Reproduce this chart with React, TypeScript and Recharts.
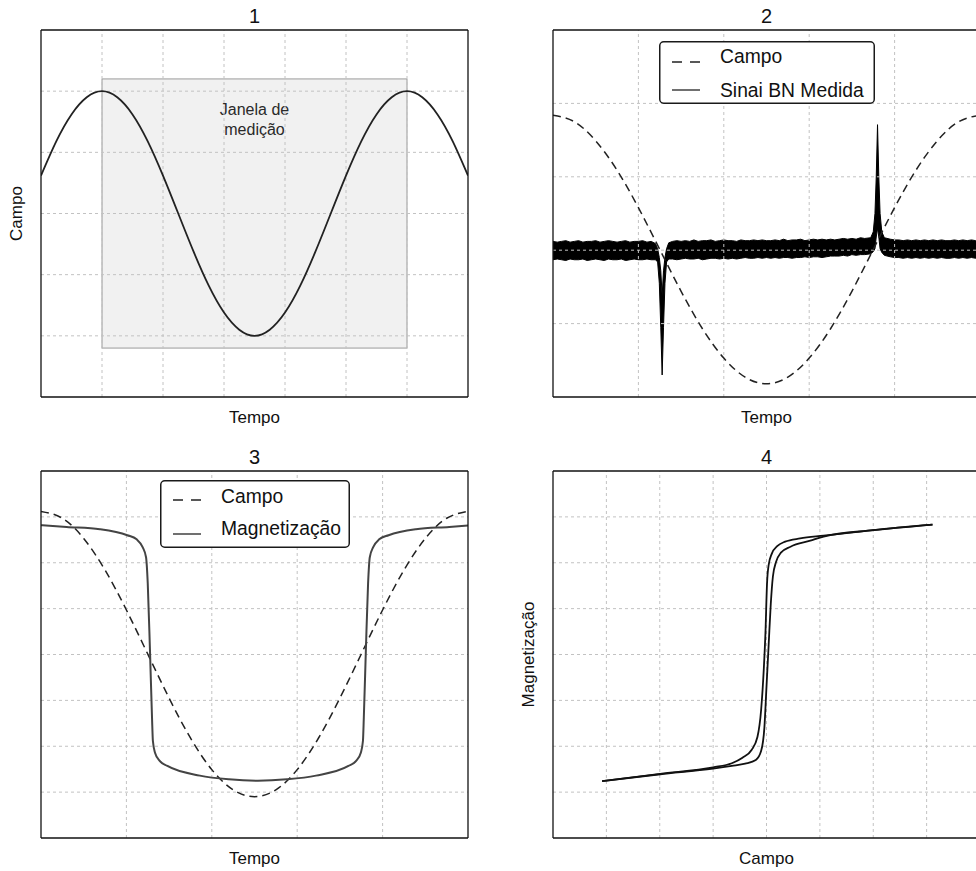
import React from 'react';
import {
  ComposedChart,
  Line,
  Area,
  XAxis,
  YAxis,
  ReferenceArea,
  ReferenceLine,
  Legend,
} from 'recharts';

const FONT = '"Liberation Sans", Arial, Helvetica, sans-serif';
const TEXT = '#111';
const GRID = '#c2c2c2';

// ---------- texts ----------
const panelTitles = ['1', '2', '3', '4'];
const xLabels = ['Tempo', 'Tempo', 'Tempo', 'Campo'];
const yLabels = ['Campo', '', '', 'Magnetização'];
const windowLabel = ['Janela de', 'medição'];
const legend2Names = ['Campo', 'Sinai BN Medida'];
const legend3Names = ['Campo', 'Magnetização'];

// ---------- ticks / domains ----------
const ticks1X = [1, 2, 3, 4, 5, 6];
const ticks1Y = [1, 2, 3, 4, 5];
const ticks2X = [1, 2, 3, 4];
const ticks2Y = [1, 2, 3, 4];
const ticks3X = [1, 2, 3, 4];
const ticks3Y = [1, 2, 3, 4, 5, 6, 7];
const ticks4X = [1, 2, 3, 4, 5, 6, 7];
const ticks4Y = [1, 2, 3, 4, 5, 6, 7];

// ---------- panel 1 ----------
const p1Time = [0, 0.25, 0.5, 0.75, 1, 1.25, 1.5, 1.75, 2, 2.25, 2.5, 2.75, 3, 3.25, 3.5, 3.75, 4, 4.25, 4.5, 4.75, 5, 5.25, 5.5, 5.75, 6, 6.25, 6.5, 6.75, 7];
const p1Campo = [3.62, 4.18, 4.62, 4.9, 5.0, 4.9, 4.62, 4.18, 3.62, 3.0, 2.38, 1.82, 1.38, 1.1, 1.0, 1.1, 1.38, 1.82, 2.38, 3.0, 3.62, 4.18, 4.62, 4.9, 5.0, 4.9, 4.62, 4.18, 3.62];
const windowRange = [1, 6, 0.8, 5.2];

// ---------- panel 2 ----------
const p2Time = [0, 0.25, 0.5, 0.75, 1, 1.25, 1.5, 1.75, 2, 2.25, 2.5, 2.75, 3, 3.25, 3.5, 3.75, 4, 4.25, 4.5, 4.75, 5];
const p2Campo = [3.84, 3.75, 3.49, 3.09, 2.58, 2.01, 1.44, 0.93, 0.53, 0.27, 0.18, 0.27, 0.53, 0.93, 1.44, 2.01, 2.58, 3.09, 3.49, 3.75, 3.84];

const bnTime = [
  0.0, 0.05, 0.1, 0.15, 0.2, 0.25, 0.3, 0.35, 0.4, 0.45,
  0.5, 0.55, 0.6, 0.65, 0.7, 0.75, 0.8, 0.85, 0.9, 0.95,
  1.0, 1.05, 1.1, 1.15,
  1.2, 1.225, 1.245, 1.262, 1.278, 1.294, 1.311, 1.33, 1.355,
  1.4, 1.45, 1.5, 1.55, 1.6, 1.65, 1.7, 1.75, 1.8, 1.85,
  1.9, 1.95, 2.0, 2.05, 2.1, 2.15, 2.2, 2.25, 2.3, 2.35,
  2.4, 2.45, 2.5, 2.55, 2.6, 2.65, 2.7, 2.75, 2.8, 2.85,
  2.9, 2.95, 3.0, 3.05, 3.1, 3.15, 3.2, 3.25, 3.3, 3.35,
  3.4, 3.45, 3.5, 3.55, 3.6, 3.65,
  3.72, 3.75, 3.77, 3.785, 3.8, 3.815, 3.83, 3.85, 3.88,
  3.95, 4.0, 4.05, 4.1, 4.15, 4.2, 4.25, 4.3, 4.35, 4.4,
  4.45, 4.5, 4.55, 4.6, 4.65, 4.7, 4.75, 4.8, 4.85, 4.9,
  4.95, 5.0,
];
const bnLow = [
  1.87, 1.88, 1.87, 1.86, 1.88, 1.87, 1.87, 1.88, 1.86, 1.87,
  1.88, 1.87, 1.86, 1.88, 1.87, 1.87, 1.88, 1.86, 1.87, 1.88,
  1.87, 1.87, 1.88, 1.87,
  1.87, 1.84, 1.55, 0.95, 0.3, 0.95, 1.55, 1.84, 1.88,
  1.88, 1.87, 1.88, 1.89, 1.88, 1.88, 1.89, 1.87, 1.88, 1.89,
  1.89, 1.88, 1.89, 1.88, 1.89, 1.88, 1.89, 1.9, 1.89, 1.89,
  1.9, 1.89, 1.9, 1.89, 1.9, 1.89, 1.9, 1.9, 1.89, 1.9,
  1.9, 1.91, 1.9, 1.91, 1.91, 1.9, 1.91, 1.92, 1.92, 1.92,
  1.93, 1.92, 1.94, 1.93, 1.94, 1.94,
  1.95, 1.98, 2.02, 2.18, 2.3, 2.18, 2.02, 1.97, 1.93,
  1.91, 1.9, 1.9, 1.89, 1.9, 1.89, 1.9, 1.89, 1.9, 1.89,
  1.9, 1.89, 1.9, 1.89, 1.89, 1.9, 1.89, 1.9, 1.89, 1.9,
  1.89, 1.9,
];
const bnHigh = [
  2.12, 2.11, 2.12, 2.13, 2.11, 2.12, 2.13, 2.11, 2.12, 2.12,
  2.13, 2.11, 2.12, 2.13, 2.12, 2.11, 2.12, 2.13, 2.11, 2.12,
  2.12, 2.13, 2.11, 2.12,
  2.09, 2.02, 1.9, 1.72, 1.38, 1.72, 1.9, 2.02, 2.1,
  2.12, 2.13, 2.12, 2.13, 2.12, 2.14, 2.12, 2.13, 2.13, 2.14,
  2.12, 2.13, 2.14, 2.13, 2.13, 2.12, 2.14, 2.13, 2.13, 2.14,
  2.13, 2.14, 2.13, 2.13, 2.14, 2.13, 2.15, 2.13, 2.14, 2.14,
  2.15, 2.13, 2.14, 2.15, 2.14, 2.15, 2.14, 2.15, 2.14, 2.15,
  2.16, 2.15, 2.16, 2.15, 2.17, 2.16,
  2.17, 2.25, 2.5, 3.0, 3.71, 3.0, 2.5, 2.25, 2.17,
  2.15, 2.14, 2.14, 2.13, 2.14, 2.13, 2.14, 2.13, 2.14, 2.13,
  2.14, 2.13, 2.14, 2.13, 2.13, 2.14, 2.13, 2.14, 2.13, 2.14,
  2.13, 2.14,
];

// ---------- panel 3 ----------
const p3Time = [0, 0.25, 0.5, 0.75, 1, 1.25, 1.5, 1.75, 2, 2.25, 2.5, 2.75, 3, 3.25, 3.5, 3.75, 4, 4.25, 4.5, 4.75, 5];
const p3Campo = [7.12, 6.97, 6.53, 5.84, 4.97, 4.01, 3.05, 2.18, 1.49, 1.05, 0.9, 1.05, 1.49, 2.18, 3.05, 4.01, 4.97, 5.84, 6.53, 6.97, 7.12];
const p3MagTime = [0, 0.3, 0.69, 1.01, 1.12, 1.19, 1.23, 1.25, 1.276, 1.3, 1.31, 1.335, 1.39, 1.48, 1.86, 2.2, 2.54, 2.88, 3.22, 3.6, 3.69, 3.745, 3.77, 3.78, 3.804, 3.83, 3.85, 3.89, 3.96, 4.07, 4.39, 4.78, 5.0];
const p3Mag = [6.82, 6.78, 6.73, 6.6, 6.51, 6.34, 6.12, 5.55, 4.09, 2.62, 2.12, 1.86, 1.68, 1.57, 1.36, 1.28, 1.25, 1.28, 1.36, 1.57, 1.68, 1.86, 2.12, 2.62, 4.09, 5.55, 6.12, 6.34, 6.51, 6.6, 6.73, 6.78, 6.81];

// ---------- panel 4 ----------
const loopDownH = [0.92, 2.01, 3.0, 3.35, 3.55, 3.72, 3.83, 3.9, 3.95, 3.98, 4.01, 4.04, 4.1, 4.2, 4.35, 4.63, 5.07, 6.0, 7.11];
const loopDownM = [1.24, 1.4, 1.54, 1.63, 1.75, 1.92, 2.2, 2.8, 3.7, 4.46, 5.55, 5.95, 6.2, 6.36, 6.46, 6.53, 6.59, 6.71, 6.83];
const loopUpH = [0.92, 2.01, 3.0, 3.35, 3.6, 3.8, 3.9, 3.96, 4.0, 4.04, 4.08, 4.12, 4.18, 4.27, 4.45, 4.82, 5.07, 6.0, 7.11];
const loopUpM = [1.24, 1.39, 1.51, 1.57, 1.62, 1.7, 1.9, 2.4, 3.3, 4.2, 5.1, 5.7, 6.02, 6.22, 6.35, 6.48, 6.57, 6.71, 6.83];

// ---------- helpers ----------
const rows = (xs: number[], ys: number[]) => xs.map((x, i) => ({ x, y: ys[i] }));
const p1Rows = rows(p1Time, p1Campo);
const p2Rows = rows(p2Time, p2Campo);
const bnRows = bnTime.map((x, i) => ({ x, band: [bnLow[i], bnHigh[i]] }));
const p3CampoRows = rows(p3Time, p3Campo);
const p3MagRows = rows(p3MagTime, p3Mag);
const loopDownRows = rows(loopDownH, loopDownM);
const loopUpRows = rows(loopUpH, loopUpM);

// plot area: x 41..468, y 30..397 inside a 480x430 chart (axes take 1px)
const MARGIN = { top: 29, right: 11, bottom: 32, left: 40 };
const CW = 480;
const CH = 430;

const titleLabel = (text: string) => (props: any) => {
  const vb = props.viewBox || {};
  return (
    <text x={vb.x + vb.width / 2} y={vb.y + (vb.height || 0) - 7.5} textAnchor="middle" fontSize={20} fontFamily={FONT} fill={TEXT}>
      {text}
    </text>
  );
};
const bottomLabel = (text: string) => (props: any) => {
  const vb = props.viewBox || {};
  return (
    <text x={vb.x + vb.width / 2} y={vb.y + 26} textAnchor="middle" fontSize={17} fontFamily={FONT} fill={TEXT}>
      {text}
    </text>
  );
};
const leftLabel = (text: string) => (props: any) => {
  const vb = props.viewBox || {};
  const x = vb.x + (vb.width || 0) - 19;
  const y = vb.y + vb.height / 2;
  return (
    <text x={x} y={y} transform={`rotate(-90, ${x}, ${y})`} textAnchor="middle" fontSize={17} fontFamily={FONT} fill={TEXT}>
      {text}
    </text>
  );
};
const janelaLabel = (props: any) => {
  const vb = props.viewBox || {};
  const cx = vb.x + vb.width / 2;
  return (
    <g>
      <text x={cx} y={vb.y + 36} textAnchor="middle" fontSize={16} fontFamily={FONT} fill="#2a2a2a">{windowLabel[0]}</text>
      <text x={cx} y={vb.y + 56} textAnchor="middle" fontSize={16} fontFamily={FONT} fill="#2a2a2a">{windowLabel[1]}</text>
    </g>
  );
};

const frameAxes = (xMax: number, yMax: number, xTicks: number[], yTicks: number[], title: string, xLabel: string, yLabel: string) => {
  const common = {
    type: 'number' as const,
    tick: false,
    tickSize: -6,
    allowDataOverflow: true,
    interval: 0 as const,
    tickLine: { stroke: '#333', strokeWidth: 1 },
    axisLine: { stroke: '#111', strokeWidth: 1.3 },
  };
  return [
    <XAxis key="xb" {...common} dataKey="x" domain={[0, xMax]} ticks={xTicks} height={1} label={bottomLabel(xLabel)} />,
    <XAxis key="xt" {...common} xAxisId="t" orientation="top" domain={[0, xMax]} ticks={xTicks} height={1} label={titleLabel(title)} />,
    <YAxis key="yl" {...common} domain={[0, yMax]} ticks={yTicks} width={1} label={yLabel ? leftLabel(yLabel) : undefined} />,
    <YAxis key="yr" {...common} yAxisId="r" orientation="right" domain={[0, yMax]} ticks={yTicks} width={1} />,
  ];
};

const gridLines = (xTicks: number[], yTicks: number[]) => [
  ...xTicks.map((t) => <ReferenceLine key={`gx${t}`} x={t} stroke={GRID} strokeWidth={1} strokeDasharray="3 3" />),
  ...yTicks.map((t) => <ReferenceLine key={`gy${t}`} y={t} stroke={GRID} strokeWidth={1} strokeDasharray="3 3" />),
];

const legendBox = (names: string[], w: number, h: number, lines: number[], bases: number[]) => () => (
  <svg width={w} height={h} style={{ display: 'block', overflow: 'visible' }}>
    <rect x={0.75} y={0.75} width={w - 1.5} height={h - 1.5} rx={4} ry={4} fill="#fff" stroke="#1a1a1a" strokeWidth={1.5} />
    <line x1={13} x2={41} y1={lines[0]} y2={lines[0]} stroke="#222" strokeWidth={1.3} strokeDasharray="10 8" />
    <line x1={13} x2={41} y1={lines[1]} y2={lines[1]} stroke="#222" strokeWidth={1.3} />
    <text x={61} y={bases[0]} fontSize={19.3} fontFamily={FONT} fill={TEXT}>{names[0]}</text>
    <text x={61} y={bases[1]} fontSize={19.3} fontFamily={FONT} fill={TEXT}>{names[1]}</text>
  </svg>
);

export default function App() {
  return (
    <div style={{ position: 'absolute', left: 0, top: 0, width: 976, height: 871, overflow: 'hidden', background: '#fff' }}>
      {/* Panel 1 */}
      <div style={{ position: 'absolute', left: 0, top: 0 }}>
        <ComposedChart width={CW} height={CH} margin={MARGIN}>
          {frameAxes(7, 6, ticks1X, ticks1Y, panelTitles[0], xLabels[0], yLabels[0])}
          {gridLines(ticks1X, ticks1Y)}
          <ReferenceArea
            x1={windowRange[0]}
            x2={windowRange[1]}
            y1={windowRange[2]}
            y2={windowRange[3]}
            fill="#000"
            fillOpacity={0.055}
            stroke="#9a9a9a"
            strokeWidth={1}
            label={janelaLabel}
          />
          <Line data={p1Rows} dataKey="y" type="natural" stroke="#222" strokeWidth={1.8} dot={false} activeDot={false} isAnimationActive={false} />
        </ComposedChart>
      </div>

      {/* Panel 2 */}
      <div style={{ position: 'absolute', left: 512, top: 0 }}>
        <ComposedChart width={CW} height={CH} margin={MARGIN}>
          {frameAxes(5, 5, ticks2X, ticks2Y, panelTitles[1], xLabels[1], yLabels[1])}
          <Area data={bnRows} dataKey="band" type="linear" fill="#000" fillOpacity={1} stroke="#000" strokeWidth={1} dot={false} activeDot={false} isAnimationActive={false} />
          {gridLines(ticks2X, ticks2Y)}
          <Line data={p2Rows} dataKey="y" type="natural" stroke="#222" strokeWidth={1.5} strokeDasharray="8 5" dot={false} activeDot={false} isAnimationActive={false} />
          <Legend
            content={legendBox(legend2Names, 216, 63, [21, 49], [22, 56])}
            layout="horizontal"
            verticalAlign="middle"
            align="center"
            wrapperStyle={{ left: 147, top: 41, width: 216, height: 63 }}
          />
        </ComposedChart>
      </div>

      {/* Panel 3 */}
      <div style={{ position: 'absolute', left: 0, top: 441 }}>
        <ComposedChart width={CW} height={CH} margin={MARGIN}>
          {frameAxes(5, 8, ticks3X, ticks3Y, panelTitles[2], xLabels[2], yLabels[2])}
          {gridLines(ticks3X, ticks3Y)}
          <Line data={p3CampoRows} dataKey="y" type="natural" stroke="#222" strokeWidth={1.5} strokeDasharray="8 5" dot={false} activeDot={false} isAnimationActive={false} />
          <Line data={p3MagRows} dataKey="y" type="monotone" stroke="#444" strokeWidth={2} dot={false} activeDot={false} isAnimationActive={false} />
          <Legend
            content={legendBox(legend3Names, 190, 68, [20, 54], [23, 55])}
            layout="horizontal"
            verticalAlign="middle"
            align="center"
            wrapperStyle={{ left: 160, top: 39, width: 190, height: 68 }}
          />
        </ComposedChart>
      </div>

      {/* Panel 4 */}
      <div style={{ position: 'absolute', left: 512, top: 441 }}>
        <ComposedChart width={CW} height={CH} margin={MARGIN}>
          {frameAxes(8, 8, ticks4X, ticks4Y, panelTitles[3], xLabels[3], yLabels[3])}
          {gridLines(ticks4X, ticks4Y)}
          <Line data={loopDownRows} dataKey="y" type="monotone" stroke="#111" strokeWidth={1.8} dot={false} activeDot={false} isAnimationActive={false} />
          <Line data={loopUpRows} dataKey="y" type="monotone" stroke="#111" strokeWidth={1.8} dot={false} activeDot={false} isAnimationActive={false} />
        </ComposedChart>
      </div>
    </div>
  );
}
